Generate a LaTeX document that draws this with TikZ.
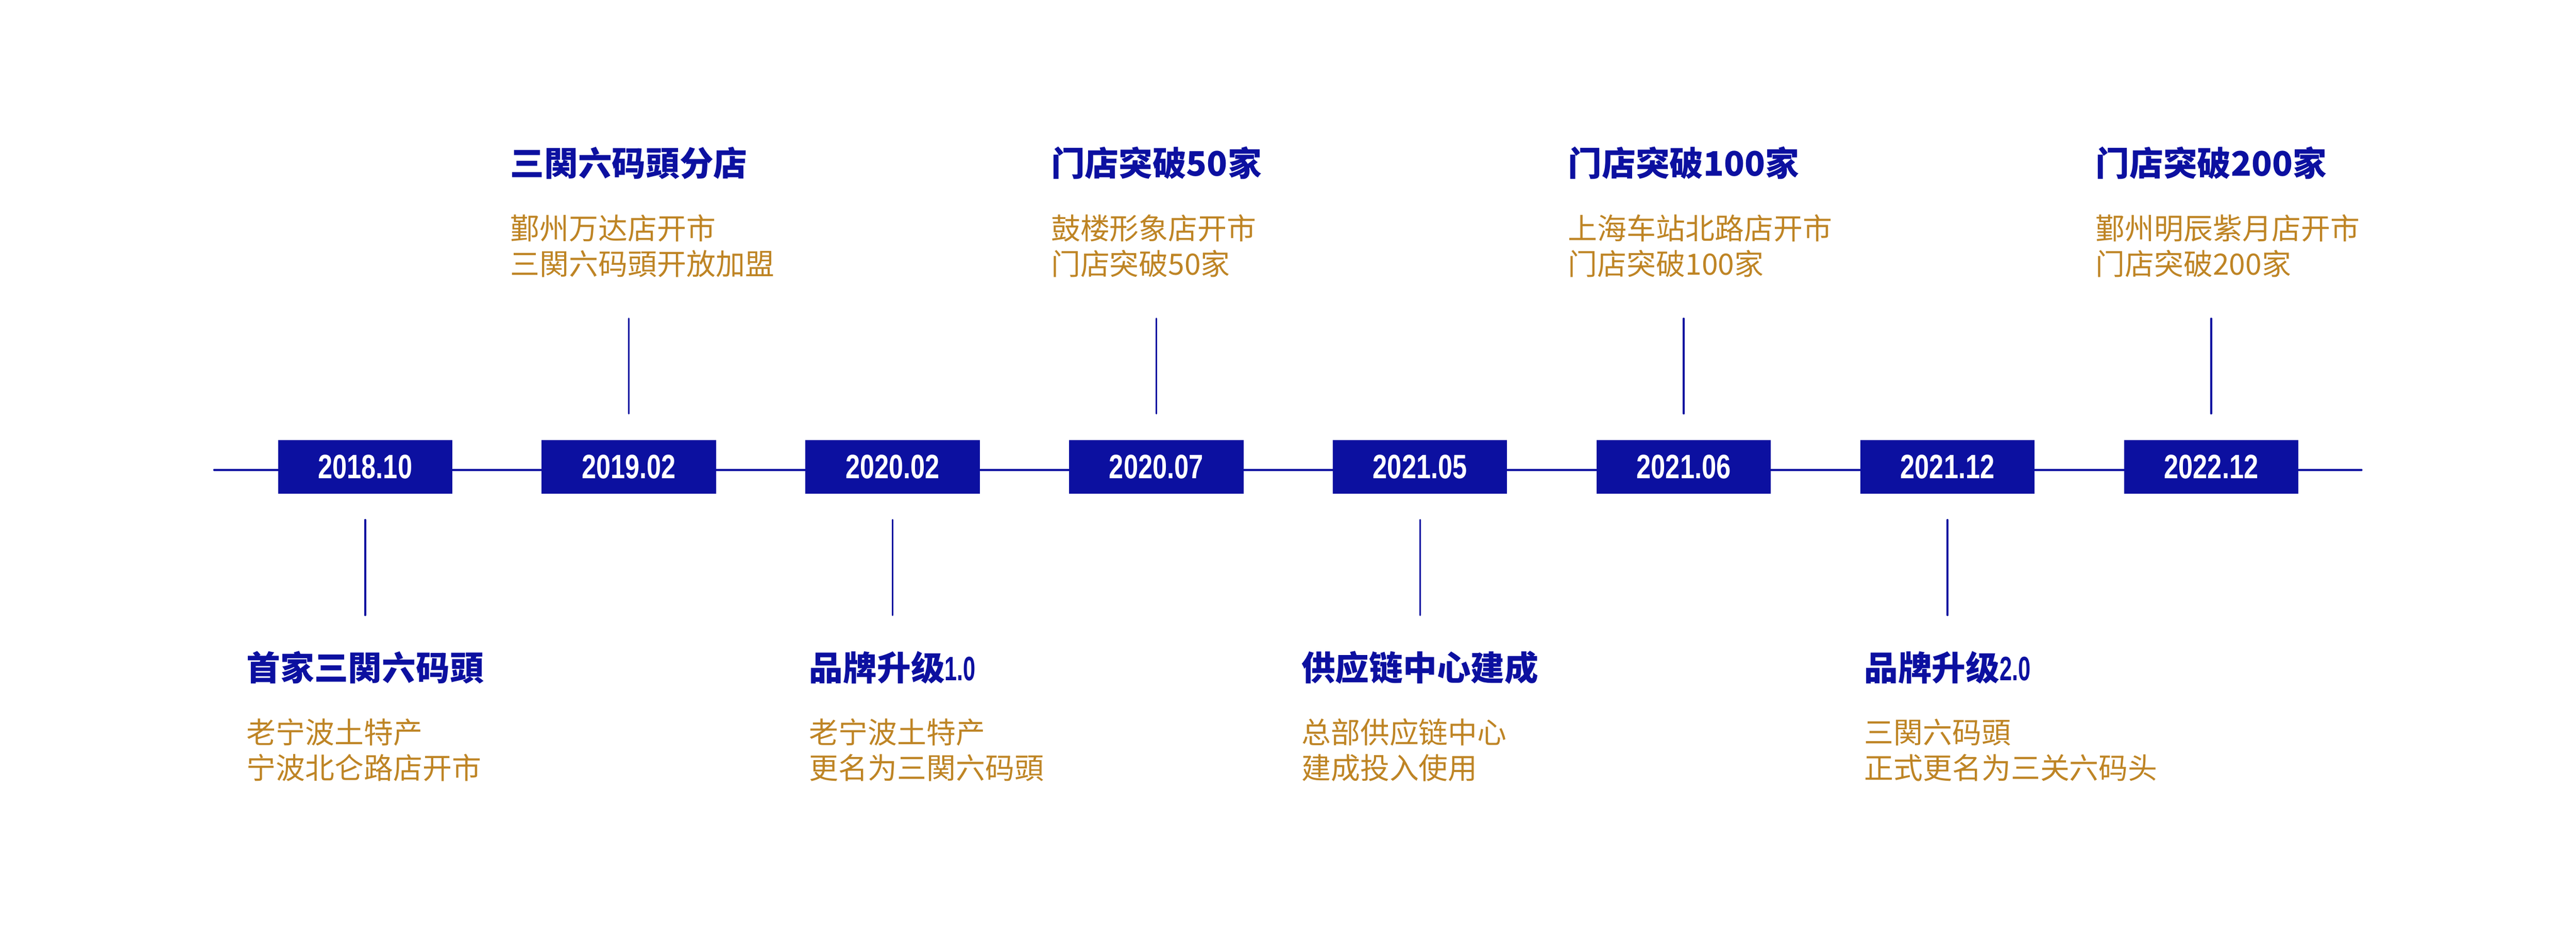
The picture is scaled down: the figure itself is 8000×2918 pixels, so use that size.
\documentclass[tikz,border=0pt]{standalone}
\usepackage{fontspec}
\newfontfamily\cjk{Noto Sans CJK SC}
\newfontfamily\datefont[FakeStretch=0.77]{Liberation Sans}
\newfontfamily\verfont[FakeStretch=0.66]{Liberation Sans}
\definecolor{tlblue}{RGB}{12,16,160}
\definecolor{tlgold}{RGB}{190,132,36}
\tikzset{
  axis/.style={draw=tlblue, line width=1.7pt, line cap=round},
  tick/.style={draw=tlblue, line width=1.6pt, line cap=round},
  datebox/.style={fill=tlblue, text=white, inner sep=0pt,
    minimum width=5.41cm, minimum height=1.66cm,
    font=\datefont\bfseries\fontsize{29.9pt}{30pt}\selectfont},
  title/.style={anchor=base, inner sep=0pt, text=tlblue,
    font=\cjk\bfseries\fontsize{29.9pt}{36pt}\selectfont},
  note/.style={anchor=base west, inner sep=0pt, text=tlgold, align=left,
    font=\cjk\fontsize{25.9pt}{31.3pt}\selectfont}
}

\begin{document}
\begin{tikzpicture}[x=0.01cm,y=-0.01cm]
\useasboundingbox (0,0) rectangle (8000,2918);
% axis
\coordinate (lnL) at (665,1459);
\coordinate (lnR) at (7334,1459);
\draw[axis] (lnL) -- (lnR);
% date boxes
\node[datebox] (d1) at (1134,1449) {2018.10};
\node[datebox] (d2) at (1953,1449) {2019.02};
\node[datebox] (d3) at (2772,1449) {2020.02};
\node[datebox] (d4) at (3591,1449) {2020.07};
\node[datebox] (d5) at (4410,1449) {2021.05};
\node[datebox] (d6) at (5229,1449) {2021.06};
\node[datebox] (d7) at (6048,1449) {2021.12};
\node[datebox] (d8) at (6867,1449) {2022.12};
% ticks
\coordinate (t1a) at (1134,1614);
\coordinate (t1b) at (1134,1910);
\draw[tick] (t1a) -- (t1b);
\coordinate (t2a) at (1953,989);
\coordinate (t2b) at (1953,1284);
\draw[tick] (t2a) -- (t2b);
\coordinate (t3a) at (2772,1614);
\coordinate (t3b) at (2772,1910);
\draw[tick] (t3a) -- (t3b);
\coordinate (t4a) at (3591,989);
\coordinate (t4b) at (3591,1284);
\draw[tick] (t4a) -- (t4b);
\coordinate (t5a) at (4410,1614);
\coordinate (t5b) at (4410,1910);
\draw[tick] (t5a) -- (t5b);
\coordinate (t6a) at (5229,989);
\coordinate (t6b) at (5229,1284);
\draw[tick] (t6a) -- (t6b);
\coordinate (t7a) at (6048,1614);
\coordinate (t7b) at (6048,1910);
\draw[tick] (t7a) -- (t7b);
\coordinate (t8a) at (6867,989);
\coordinate (t8b) at (6867,1284);
\draw[tick] (t8a) -- (t8b);
% titles
\node[title] (ti1) at (1134,2112) {首家三関六码頭};
\node[title] (ti2) at (1953,547) {三関六码頭分店};
\node[title] (ti3) at (2772,2112) {品牌升级{\verfont 1.0}};
\node[title] (ti4) at (3591,547) {门店突破50家};
\node[title] (ti5) at (4410,2112) {供应链中心建成};
\node[title] (ti6) at (5229,547) {门店突破100家};
\node[title] (ti7) at (6048,2112) {品牌升级{\verfont 2.0}};
\node[title] (ti8) at (6867,547) {门店突破200家};
% notes (base is the second line)
\node[note] (nt1) at ([yshift=-3.06cm]ti1.base west) {老宁波土特产\\宁波北仑路店开市};
\node[note] (nt2) at ([yshift=-3.06cm]ti2.base west) {鄞州万达店开市\\三関六码頭开放加盟};
\node[note] (nt3) at ([yshift=-3.06cm]ti3.base west) {老宁波土特产\\更名为三関六码頭};
\node[note] (nt4) at ([yshift=-3.06cm]ti4.base west) {鼓楼形象店开市\\门店突破50家};
\node[note] (nt5) at ([yshift=-3.06cm]ti5.base west) {总部供应链中心\\建成投入使用};
\node[note] (nt6) at ([yshift=-3.06cm]ti6.base west) {上海车站北路店开市\\门店突破100家};
\node[note] (nt7) at ([yshift=-3.06cm]ti7.base west) {三関六码頭\\正式更名为三关六码头};
\node[note] (nt8) at ([yshift=-3.06cm]ti8.base west) {鄞州明辰紫月店开市\\门店突破200家};
\end{tikzpicture}
\end{document}
